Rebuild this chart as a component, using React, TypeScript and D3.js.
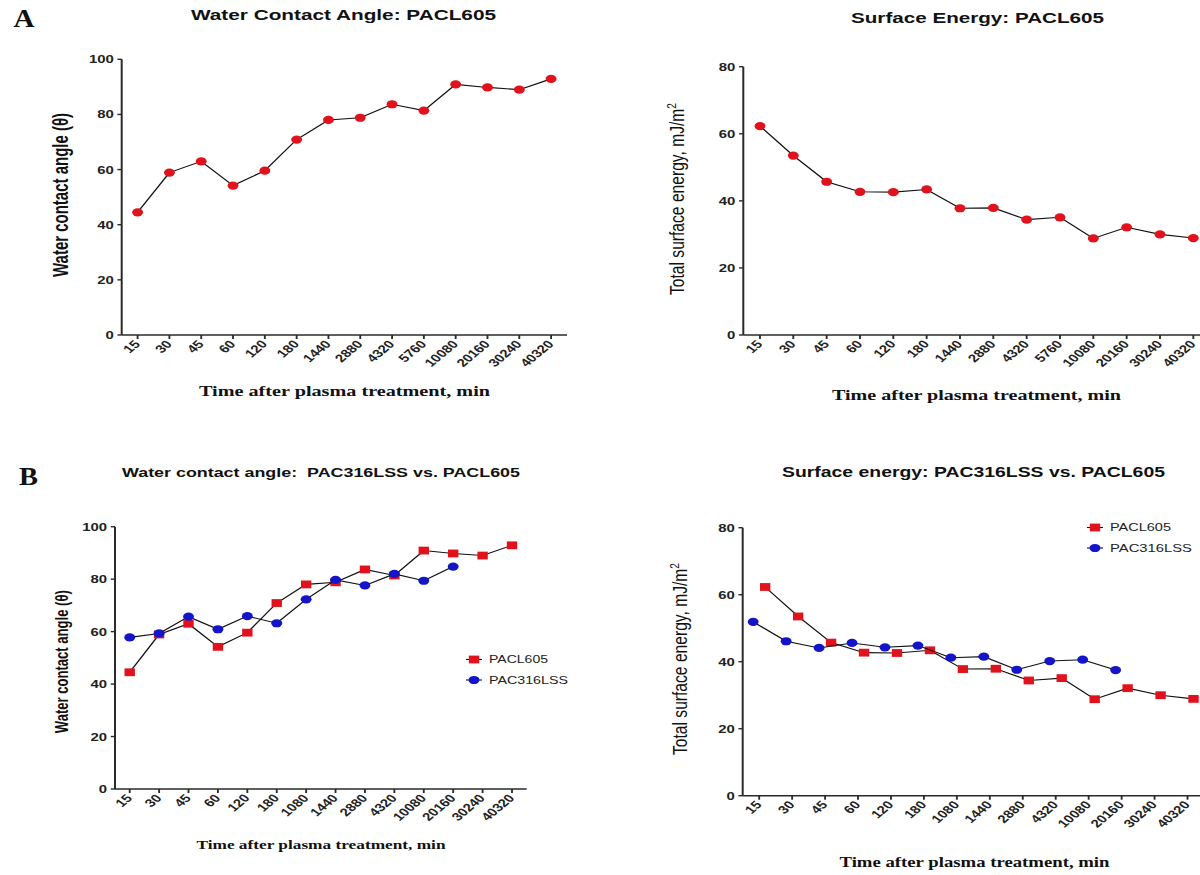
import React from "react";
import * as d3 from "d3";

// ---------- data ----------
const catsA = ["15", "30", "45", "60", "120", "180", "1440", "2880", "4320", "5760", "10080", "20160", "30240", "40320"];
const catsB = ["15", "30", "45", "60", "120", "180", "1080", "1440", "2880", "4320", "10080", "20160", "30240", "40320"];

const wcaPACL605 = [44.5, 58.9, 63.0, 54.2, 59.6, 70.9, 78.0, 78.8, 83.7, 81.4, 90.9, 89.8, 89.0, 92.9];
const sePACL605 = [62.3, 53.5, 45.7, 42.7, 42.6, 43.4, 37.8, 37.9, 34.4, 35.1, 28.8, 32.1, 30.0, 28.9];
const wcaPAC316LSS = [57.8, 59.3, 65.7, 60.9, 65.9, 63.2, 72.3, 79.7, 77.6, 82.0, 79.4, 84.8];
const sePAC316LSS = [51.9, 46.1, 44.1, 45.6, 44.3, 44.8, 41.2, 41.5, 37.6, 40.2, 40.6, 37.5];

const yTicksWCA = [0, 20, 40, 60, 80, 100];
const yTicksSE = [0, 20, 40, 60, 80];

// ---------- style ----------
const S = 1.33; // horizontal stretch of the figure
const VW = 1200 / S;
const X = (v: number) => v / S;
const RED = "#e1121c";
const BLUE = "#1414c8";
const AXIS = "#2a2a2a";
const SANS = "'Liberation Sans', Arial, Helvetica, sans-serif";
const SERIF = "'Liberation Serif', 'Times New Roman', Times, serif";

type Series = { name: string; values: number[]; shape: "circle" | "square"; color: string; offset: number };
type TextSpec = { text: string; x: number; y: number; size: number; len: number; weight?: string; sup?: string };

type PanelCfg = {
  cats: string[];
  yMax: number;
  yTicks: number[];
  left: number;
  bandRight: number;
  top: number;
  bottom: number;
  series: Series[];
  title: TextSpec;
  yLabel: TextSpec;
  xTitle: TextSpec;
  legend?: { x: number; y: number; dy: number; size: number; lens: number[] };
};

const panels: PanelCfg[] = [
  {
    cats: catsA, yMax: 100, yTicks: yTicksWCA,
    left: 121.7, bandRight: 567, top: 59.3, bottom: 335,
    series: [{ name: "PACL605", values: wcaPACL605, shape: "circle", color: RED, offset: 0 }],
    title: { text: "Water Contact Angle: PACL605", x: 343.5, y: 20.5, size: 15.5, len: 305 },
    yLabel: { text: "Water contact angle (θ)", x: 67.5, y: 195, size: 16.5, len: 164, weight: "bold" },
    xTitle: { text: "Time after plasma treatment, min", x: 344.5, y: 396.5, size: 15, len: 291 },
  },
  {
    cats: catsA, yMax: 80, yTicks: yTicksSE,
    left: 743.3, bandRight: 1210, top: 66.7, bottom: 335,
    series: [{ name: "PACL605", values: sePACL605, shape: "circle", color: RED, offset: 0 }],
    title: { text: "Surface Energy: PACL605", x: 977.5, y: 23, size: 15.5, len: 253 },
    yLabel: { text: "Total surface energy, mJ/m", sup: "2", x: 684, y: 199, size: 15.5, len: 192, weight: "normal" },
    xTitle: { text: "Time after plasma treatment, min", x: 976.5, y: 400, size: 15, len: 289 },
  },
  {
    cats: catsB, yMax: 100, yTicks: yTicksWCA,
    left: 115, bandRight: 526.7, top: 526.7, bottom: 789,
    series: [
      { name: "PACL605", values: wcaPACL605, shape: "square", color: RED, offset: 0 },
      { name: "PAC316LSS", values: wcaPAC316LSS, shape: "circle", color: BLUE, offset: 0 },
    ],
    title: { text: "Water contact angle:  PAC316LSS vs. PACL605", x: 321, y: 477.5, size: 13.5, len: 398 },
    yLabel: { text: "Water contact angle (θ)", x: 68, y: 661.7, size: 14.5, len: 143, weight: "bold" },
    xTitle: { text: "Time after plasma treatment, min", x: 321, y: 849, size: 13, len: 249 },
    legend: { x: 474, y: 659.5, dy: 20.5, size: 10.8, lens: [59, 79] },
  },
  {
    cats: catsB, yMax: 80, yTicks: yTicksSE,
    left: 742.7, bandRight: 1204, top: 527.7, bottom: 795.7,
    series: [
      { name: "PACL605", values: sePACL605, shape: "square", color: RED, offset: 6 },
      { name: "PAC316LSS", values: sePAC316LSS, shape: "circle", color: BLUE, offset: -6 },
    ],
    title: { text: "Surface energy: PAC316LSS vs. PACL605", x: 973.5, y: 477.5, size: 14, len: 383 },
    yLabel: { text: "Total surface energy, mJ/m", sup: "2", x: 687, y: 659, size: 15.5, len: 192, weight: "normal" },
    xTitle: { text: "Time after plasma treatment, min", x: 974.5, y: 867, size: 14, len: 270 },
    legend: { x: 1095, y: 527.5, dy: 20.5, size: 11, lens: [61, 82] },
  },
];

function Marker({ shape, x, y, color }: { shape: string; x: number; y: number; color: string }) {
  if (shape === "circle") return <circle cx={x} cy={y} r={4.1} fill={color} />;
  return <rect x={x - 3.9} y={y - 3.9} width={7.8} height={7.8} fill={color} />;
}

function Panel({ p }: { p: PanelCfg }) {
  const x = d3.scaleBand<string>().domain(p.cats).range([X(p.left), X(p.bandRight)]);
  const y = d3.scaleLinear().domain([0, p.yMax]).range([p.bottom, p.top]);
  const cx = (c: string) => (x(c) ?? 0) + x.bandwidth() / 2;
  const ax = X(p.left);
  return (
    <g>
      {/* axes */}
      <line x1={ax} x2={ax} y1={p.bottom} y2={y(p.yMax)} stroke={AXIS} strokeWidth={1.5} />
      <line x1={ax} x2={X(p.bandRight)} y1={p.bottom} y2={p.bottom} stroke={AXIS} strokeWidth={1.5} />
      {p.yTicks.map((t) => (
        <g key={"y" + t}>
          <line x1={ax - 3.2} x2={ax} y1={y(t)} y2={y(t)} stroke={AXIS} strokeWidth={1.4} />
          <text x={ax - 6} y={y(t)} dy="0.36em" textAnchor="end" fontFamily={SANS} fontWeight="bold" fontSize={11.2} fill="#222">
            {t}
          </text>
        </g>
      ))}
      {p.cats.map((c) => (
        <g key={"x" + c}>
          <line x1={cx(c)} x2={cx(c)} y1={p.bottom} y2={p.bottom + 4} stroke={AXIS} strokeWidth={1.4} />
          <text
            transform={`translate(${cx(c) + 2.5},${p.bottom + 9.5}) rotate(-48)`}
            textAnchor="end"
            fontFamily={SANS}
            fontWeight="bold"
            fontSize={11.2}
            fill="#222"
          >
            {c}
          </text>
        </g>
      ))}
      {/* series */}
      {p.series.map((s) => {
        const line = d3
          .line<number>()
          .x((_, i) => cx(p.cats[i]) + X(s.offset))
          .y((d) => y(d));
        return (
          <g key={s.name}>
            <path d={line(s.values) ?? ""} fill="none" stroke="#111" strokeWidth={1.1} />
            {s.values.map((v, i) => (
              <Marker key={i} shape={s.shape} x={cx(p.cats[i]) + X(s.offset)} y={y(v)} color={s.color} />
            ))}
          </g>
        );
      })}
      {/* legend */}
      {p.legend &&
        p.series.map((s, i) => {
          const lx = X(p.legend!.x);
          const ly = p.legend!.y + i * p.legend!.dy;
          return (
            <g key={"lg" + s.name}>
              <line x1={lx - 6} x2={lx + 6} y1={ly} y2={ly} stroke="#111" strokeWidth={1.1} />
              <Marker shape={s.shape} x={lx} y={ly} color={s.color} />
              <text
                x={lx + X(15)}
                y={ly}
                dy="0.36em"
                textLength={X(p.legend!.lens[i])}
                lengthAdjust="spacingAndGlyphs"
                fontFamily={SANS}
                fontSize={p.legend!.size}
                fill="#222"
              >
                {s.name}
              </text>
            </g>
          );
        })}
      {/* title */}
      <text
        x={X(p.title.x)}
        y={p.title.y}
        textAnchor="middle"
        textLength={X(p.title.len)}
        lengthAdjust="spacingAndGlyphs"
        fontFamily={SANS}
        fontWeight="bold"
        fontSize={p.title.size}
        fill="#111"
        style={{ whiteSpace: "pre" }}
      >
        {p.title.text}
      </text>
      {/* y label */}
      <text
        transform={`translate(${X(p.yLabel.x)},${p.yLabel.y}) rotate(-90)`}
        textAnchor="middle"
        textLength={p.yLabel.len}
        lengthAdjust="spacingAndGlyphs"
        fontFamily={SANS}
        fontWeight={p.yLabel.weight}
        fontSize={p.yLabel.size}
        fill="#111"
      >
        {p.yLabel.text}
        {p.yLabel.sup && (
          <tspan dy={-6} fontSize={p.yLabel.size * 0.65}>
            {p.yLabel.sup}
          </tspan>
        )}
      </text>
      {/* x title */}
      <text
        x={X(p.xTitle.x)}
        y={p.xTitle.y}
        textAnchor="middle"
        textLength={X(p.xTitle.len)}
        lengthAdjust="spacingAndGlyphs"
        fontFamily={SERIF}
        fontWeight="bold"
        fontSize={p.xTitle.size}
        fill="#111"
      >
        {p.xTitle.text}
      </text>
    </g>
  );
}

export default function App() {
  return (
    <svg
      width={1200}
      height={875}
      viewBox={`0 0 ${VW} 875`}
      preserveAspectRatio="none"
      style={{ position: "absolute", left: 0, top: 0, background: "#fff" }}
    >
      <rect x={0} y={0} width={VW} height={875} fill="#fff" />
      <text x={X(13.4)} y={26.7} textLength={X(21)} lengthAdjust="spacingAndGlyphs" fontFamily={SERIF} fontWeight="bold" fontSize={26} fill="#111">
        A
      </text>
      <text x={X(19)} y={485} textLength={X(19)} lengthAdjust="spacingAndGlyphs" fontFamily={SERIF} fontWeight="bold" fontSize={25} fill="#111">
        B
      </text>
      {panels.map((p, i) => (
        <Panel key={i} p={p} />
      ))}
    </svg>
  );
}
